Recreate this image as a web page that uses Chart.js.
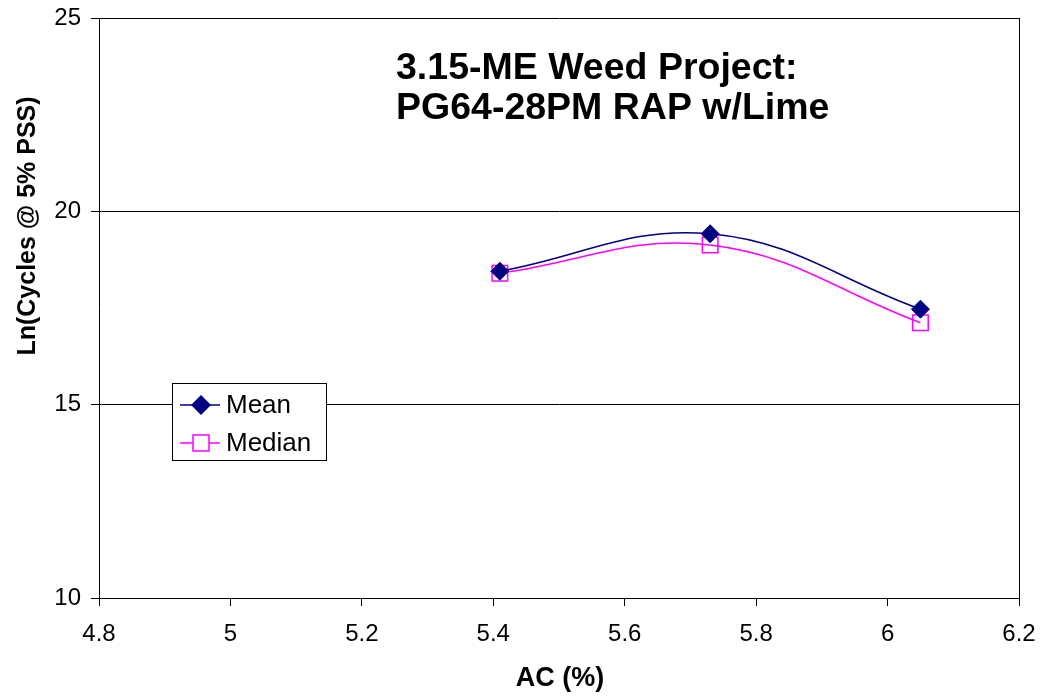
<!DOCTYPE html>
<html>
<head>
<meta charset="utf-8">
<script src="https://cdn.jsdelivr.net/npm/chart.js@4/dist/chart.umd.min.js"></script>
<style>
  html, body { margin: 0; padding: 0; background: #fff; }
  #wrap { width: 1041px; height: 696px; }
</style>
</head>
<body>
<div id="wrap"><canvas id="myChart" width="1041" height="696"></canvas></div>
<script>
// Data
const acValues = [5.41, 5.73, 6.05];
const meanValues = [18.45, 19.42, 17.47];
const medianValues = [18.4, 19.13, 17.12];
const seriesNames = ['Mean', 'Median'];
const titleLines = ['3.15-ME Weed Project:', 'PG64-28PM RAP w/Lime'];
const xTitle = 'AC (%)';
const yTitle = 'Ln(Cycles @ 5% PSS)';

const FONT = '"Liberation Sans", Arial, sans-serif';

function toPoints(ys) {
  return acValues.map((x, i) => ({ x: x, y: ys[i] }));
}

// Titles, frame and legend
const boxPlugin = {
  id: 'boxPlugin',
  afterDraw(chart) {
    const c = chart.ctx;
    const a = chart.chartArea;
    c.save();
    // right frame line
    c.strokeStyle = '#000';
    c.lineWidth = 1;
    c.beginPath();
    c.moveTo(Math.round(a.right) + 0.5, a.top);
    c.lineTo(Math.round(a.right) + 0.5, a.bottom);
    c.stroke();

    // chart title
    c.fillStyle = '#000';
    c.font = 'bold 37.5px ' + FONT;
    c.textAlign = 'left';
    c.textBaseline = 'alphabetic';
    c.fillText(titleLines[0], 396, 79);
    c.fillText(titleLines[1], 396, 119);

    // axis titles
    c.font = 'bold 27px ' + FONT;
    c.textAlign = 'center';
    c.fillText(xTitle, 560, 686);
    c.save();
    c.translate(35, 226);
    c.rotate(-Math.PI / 2);
    c.font = 'bold 25px ' + FONT;
    c.fillText(yTitle, 0, 0);
    c.restore();

    // legend
    const lx = 172.5, ly = 383.5, lw = 154, lh = 77;
    c.fillStyle = '#fff';
    c.fillRect(lx, ly, lw, lh);
    c.strokeStyle = '#000';
    c.lineWidth = 1;
    c.strokeRect(lx, ly, lw, lh);
    chart.data.datasets.forEach((ds, i) => {
      const cy = 405 + i * 38;
      c.strokeStyle = ds.borderColor;
      c.lineWidth = 1.5;
      c.beginPath();
      c.moveTo(180, cy);
      c.lineTo(220, cy);
      c.stroke();
      if (ds.pointStyle === 'rectRot') {
        c.fillStyle = ds.pointBackgroundColor;
        c.beginPath();
        c.moveTo(201, cy - 10);
        c.lineTo(211, cy);
        c.lineTo(201, cy + 10);
        c.lineTo(191, cy);
        c.closePath();
        c.fill();
      } else {
        c.fillStyle = '#fff';
        c.fillRect(193, cy - 8, 16, 16);
        c.strokeStyle = ds.pointBorderColor;
        c.strokeRect(193, cy - 8, 16, 16);
      }
      c.fillStyle = '#000';
      c.font = '26px ' + FONT;
      c.textAlign = 'left';
      c.textBaseline = 'alphabetic';
      c.fillText(ds.label, 226, 413 + i * 38);
    });
    c.restore();
  }
};

const ctx = document.getElementById('myChart').getContext('2d');
new Chart(ctx, {
  type: 'line',
  data: {
    datasets: [
      {
        label: seriesNames[0],
        data: toPoints(meanValues),
        borderColor: '#000080',
        borderWidth: 1.5,
        pointStyle: 'rectRot',
        pointRadius: 9,
        pointBackgroundColor: '#000080',
        pointBorderColor: '#000080',
        pointBorderWidth: 1,
        tension: 0.4,
        fill: false
      },
      {
        label: seriesNames[1],
        data: toPoints(medianValues),
        borderColor: '#FF00FF',
        borderWidth: 1.5,
        pointStyle: 'rect',
        pointRadius: 11,
        pointBackgroundColor: 'rgba(0,0,0,0)',
        pointBorderColor: '#FF00FF',
        pointBorderWidth: 1.5,
        tension: 0.4,
        fill: false
      }
    ]
  },
  options: {
    responsive: false,
    animation: false,
    layout: { padding: { top: 18, right: 22, left: 0, bottom: 0 } },
    plugins: {
      legend: { display: false },
      tooltip: { enabled: false }
    },
    scales: {
      x: {
        type: 'linear',
        min: 4.8,
        max: 6.2,
        ticks: {
          stepSize: 0.2,
          color: '#000',
          font: { family: FONT, size: 24 },
          padding: 14,
          maxRotation: 0,
          callback: v => Number(v.toFixed(1)).toString()
        },
        grid: { drawOnChartArea: false, drawTicks: true, tickLength: 8, color: '#000' },
        border: { color: '#000', width: 1 },
        title: { display: false },
        afterFit(scale) {
          scale.height = 98;
          scale.paddingLeft = 0;
          scale.paddingRight = 0;
        }
      },
      y: {
        min: 10,
        max: 25,
        ticks: {
          stepSize: 5,
          color: '#000',
          font: { family: FONT, size: 24 },
          padding: 10
        },
        grid: { drawOnChartArea: true, drawTicks: true, tickLength: 8, color: '#000' },
        border: { color: '#000', width: 1 },
        title: { display: false },
        afterFit(scale) {
          scale.width = 99;
          scale.paddingTop = 0;
          scale.paddingBottom = 0;
        }
      }
    }
  },
  plugins: [boxPlugin]
});
</script>
</body>
</html>
